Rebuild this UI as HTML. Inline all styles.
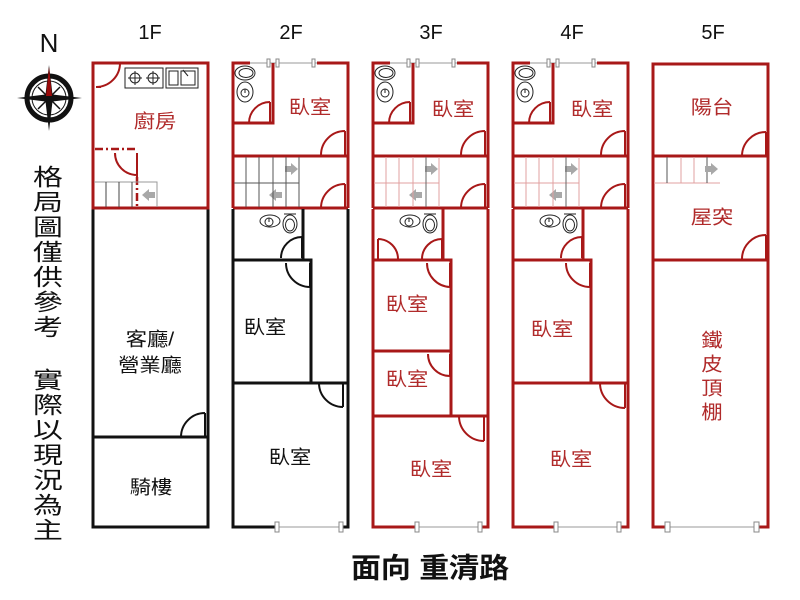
<!DOCTYPE html>
<html><head><meta charset="utf-8"><style>
html,body{margin:0;padding:0;background:#fff;}
svg{display:block;}
.r{stroke:#a81818;stroke-width:3;fill:none;}
.k{stroke:#111;stroke-width:3;fill:none;}
.ra{stroke:#a81818;stroke-width:2;fill:none;}
.ka{stroke:#111;stroke-width:2;fill:none;}
.fx{stroke:#222;stroke-width:1;fill:none;}
.g{stroke:#999;stroke-width:1;fill:none;}
.ar{fill:#a8a8a8;}
text{font-family:"Liberation Sans","Noto Sans CJK TC",sans-serif;}
.rt{fill:#b02a2a;font-size:19px;}
.bt{fill:#111;font-size:19px;}
.vt{fill:#111;font-size:23px;}
</style></head><body>
<svg width="800" height="600" viewBox="0 0 800 600" xmlns="http://www.w3.org/2000/svg">
<defs>
<g id="fixL">
  <ellipse cx="37" cy="221" rx="10" ry="6" class="fx"/>
  <circle cx="36" cy="222" r="4" class="fx"/><path class="fx" d="M36,218 V222"/>
  <ellipse cx="57" cy="224" rx="7" ry="9" class="fx"/>
  <ellipse cx="57" cy="225" rx="4.5" ry="6" class="fx"/>
  <path class="fx" d="M51,214 H63"/>
</g>
</defs>
<rect width="800" height="600" fill="#fff"/>

<!-- floor labels -->
<text x="150" y="39" font-size="20" text-anchor="middle" fill="#111">1F</text>
<text x="291" y="39" font-size="20" text-anchor="middle" fill="#111">2F</text>
<text x="431" y="39" font-size="20" text-anchor="middle" fill="#111">3F</text>
<text x="572" y="39" font-size="20" text-anchor="middle" fill="#111">4F</text>
<text x="713" y="39" font-size="20" text-anchor="middle" fill="#111">5F</text>

<!-- N + compass -->
<text x="49" y="52" font-size="26" text-anchor="middle" fill="#111">N</text>
<circle cx="49" cy="98" r="22" fill="#fff" stroke="#111" stroke-width="5"/>
<circle cx="49" cy="98" r="17" fill="none" stroke="#111" stroke-width="1"/>
<path d="M38,87 L60,109 M60,87 L38,109" stroke="#111" stroke-width="1.5"/>
<polygon points="49,65 52.5,94.5 82,98 52.5,101.5 49,131 45.5,101.5 17,98 45.5,94.5" fill="#111"/>
<polygon points="49,67 52,96 46,96" fill="#9a0a0a"/>

<!-- vertical note -->
<g class="vt" text-anchor="middle">
<text transform="translate(48,177) scale(1.3,1)" dominant-baseline="central">格</text>
<text transform="translate(48,202) scale(1.3,1)" dominant-baseline="central">局</text>
<text transform="translate(48,227) scale(1.3,1)" dominant-baseline="central">圖</text>
<text transform="translate(48,252) scale(1.3,1)" dominant-baseline="central">僅</text>
<text transform="translate(48,277) scale(1.3,1)" dominant-baseline="central">供</text>
<text transform="translate(48,302) scale(1.3,1)" dominant-baseline="central">參</text>
<text transform="translate(48,327) scale(1.3,1)" dominant-baseline="central">考</text>
<text transform="translate(48,380) scale(1.3,1)" dominant-baseline="central">實</text>
<text transform="translate(48,405) scale(1.3,1)" dominant-baseline="central">際</text>
<text transform="translate(48,430) scale(1.3,1)" dominant-baseline="central">以</text>
<text transform="translate(48,455) scale(1.3,1)" dominant-baseline="central">現</text>
<text transform="translate(48,480) scale(1.3,1)" dominant-baseline="central">況</text>
<text transform="translate(48,505) scale(1.3,1)" dominant-baseline="central">為</text>
<text transform="translate(48,530) scale(1.3,1)" dominant-baseline="central">主</text>
</g>

<!-- bottom title -->
<text transform="translate(430,569) scale(1.07,1)" text-anchor="middle" dominant-baseline="central" font-size="28" font-weight="bold" fill="#111">面向 重清路</text>

<!-- ================= 1F ================= -->
<path class="k" d="M93,208 V527 H208 V208"/>
<path class="k" d="M93,437 H208"/>
<path class="ka" d="M205,413 V437 M205,413 A24,24 0 0,0 181,437"/>
<path class="r" d="M93,208 V63 H208 V208 Z"/>
<!-- kitchen door -->
<path class="ra" d="M120,63 A24,24 0 0,1 96,87 M96,87 H101"/>
<!-- stove -->
<rect x="125" y="68" width="38" height="20" class="fx"/>
<circle cx="135" cy="78" r="5" class="fx"/><path class="fx" d="M135,71 V85 M128,78 H142"/>
<circle cx="153" cy="78" r="5" class="fx"/><path class="fx" d="M153,71 V85 M146,78 H160"/>
<!-- sink -->
<rect x="166" y="68" width="32" height="20" class="fx"/>
<rect x="169" y="71" width="9" height="14" class="fx"/>
<rect x="181" y="71" width="14" height="14" class="fx"/>
<path class="fx" d="M183,70 L188,76"/>
<text class="rt" transform="translate(155,122) scale(1.12,1)" text-anchor="middle" dominant-baseline="central">廚房</text>
<!-- dash-dot -->
<path d="M95,149 H137" stroke="#a81818" stroke-width="2.5" stroke-dasharray="8,3,2,3" fill="none"/>
<path d="M137,177 V208" stroke="#a81818" stroke-width="2.5" stroke-dasharray="8,3,2,3" fill="none"/>
<path class="ra" d="M137,153 V177 M115,153 A22,22 0 0,0 137,175"/>
<!-- stairs 1F -->
<path class="g" d="M94,182 H157 V207"/>
<path d="M106,182 V207 M119,182 V207 M132,182 V207" stroke="#444" stroke-width="1"/>
<polygon class="ar" points="155,192 149,192 149,189 142,195 149,201 149,198 155,198"/>
<text class="bt" transform="translate(150,340) scale(1.12,1)" text-anchor="middle" dominant-baseline="central">客廳/</text>
<text class="bt" transform="translate(150,366) scale(1.12,1)" text-anchor="middle" dominant-baseline="central">營業廳</text>
<text class="bt" transform="translate(151,488) scale(1.12,1)" text-anchor="middle" dominant-baseline="central">騎樓</text>

<!-- ================= top section template (2F,3F,4F) ================= -->
<g id="topA" transform="translate(233,0)">
  <path class="r" d="M0,208 V63 H17 M84,63 H115 V208 M0,208 H115"/>
  <path class="g" d="M17,63 H84"/>
  <rect x="34" y="59" width="3" height="8" fill="#fff" stroke="#888" stroke-width="1"/>
  <rect x="43" y="59" width="3" height="8" fill="#fff" stroke="#888" stroke-width="1"/>
  <rect x="79" y="59" width="3" height="8" fill="#fff" stroke="#888" stroke-width="1"/>
  <path class="r" d="M40,63 V123 H0"/>
  <ellipse cx="12" cy="73" rx="10" ry="7" class="fx"/>
  <ellipse cx="13" cy="73" rx="7" ry="4.5" class="fx"/>
  <ellipse cx="12" cy="92" rx="8" ry="10" class="fx"/>
  <circle cx="12" cy="93" r="4" class="fx"/><path class="fx" d="M12,89 V93"/>
  <path class="ra" d="M37,102 V123 M37,102 A21,21 0 0,0 16,123"/>
  <path class="r" d="M0,156 H115"/>
  <path class="ra" d="M112,131 V155 M112,131 A24,24 0 0,0 88,155"/>
  <path class="ra" d="M112,184 V208 M112,184 A24,24 0 0,0 88,208"/>
  <polygon class="ar" points="52,166 58,166 58,163 65,169 58,175 58,172 52,172"/>
  <polygon class="ar" points="49,192 43,192 43,189 36,195 43,201 43,198 49,198"/>
</g>
<g transform="translate(233,0)">
  <path d="M13,157 V207 M26,157 V207 M40,157 V207 M53,157 V207 M66,157 V207 M1,183 H66" stroke="#555" stroke-width="1" fill="none"/>
</g>
<use href="#topA" transform="translate(140,0)"/>
<g transform="translate(373,0)">
  <path d="M13,157 V207 M26,157 V207 M40,157 V207 M66,157 V207 M1,183 H66" stroke="#e0a0a0" stroke-width="1" fill="none"/>
  <path d="M53,157 V207" stroke="#666" stroke-width="1"/>
</g>
<use href="#topA" transform="translate(280,0)"/>
<g transform="translate(513,0)">
  <path d="M13,157 V207 M26,157 V207 M40,157 V207 M66,157 V207 M1,183 H66" stroke="#e0a0a0" stroke-width="1" fill="none"/>
  <path d="M53,157 V207" stroke="#666" stroke-width="1"/>
</g>
<text class="rt" transform="translate(310,108) scale(1.12,1)" text-anchor="middle" dominant-baseline="central">臥室</text>
<text class="rt" transform="translate(453,110) scale(1.12,1)" text-anchor="middle" dominant-baseline="central">臥室</text>
<text class="rt" transform="translate(592,110) scale(1.12,1)" text-anchor="middle" dominant-baseline="central">臥室</text>

<!-- ================= 2F lower ================= -->
<g transform="translate(233,0)">
  <path class="k" d="M0,209 V527 H43 M109,527 H115 V209"/>
  <path class="g" d="M43,527 H109"/>
  <rect x="42" y="522" width="4" height="10" fill="#fff" stroke="#888"/>
  <rect x="106" y="522" width="4" height="10" fill="#fff" stroke="#888"/>
  <path class="k" d="M70,209 V260 M0,260 H78 V383 M0,383 H115"/>
  <use href="#fixL"/>
  <path class="ka" d="M69,237 V258 M69,237 A21,21 0 0,0 48,258"/>
  <path class="ka" d="M77,263 V287 M53,263 A24,24 0 0,0 77,287"/>
  <path class="ka" d="M110,383 V407 M86,383 A24,24 0 0,0 110,407"/>
</g>
<text class="bt" transform="translate(265,328) scale(1.12,1)" text-anchor="middle" dominant-baseline="central">臥室</text>
<text class="bt" transform="translate(290,458) scale(1.12,1)" text-anchor="middle" dominant-baseline="central">臥室</text>

<!-- ================= 3F lower ================= -->
<g transform="translate(373,0)">
  <path class="r" d="M0,209 V527 H43 M108,527 H115 V209"/>
  <path class="g" d="M43,527 H108"/>
  <rect x="42" y="522" width="4" height="10" fill="#fff" stroke="#888"/>
  <rect x="105" y="522" width="4" height="10" fill="#fff" stroke="#888"/>
  <path class="r" d="M70,209 V260 M0,260 H78 V416 M0,351 H78 M0,416 H115"/>
  <use href="#fixL"/>
  <path class="ra" d="M5,239 V259 M5,239 A20,20 0 0,1 25,259"/>
  <path class="ra" d="M69,239 V259 M69,239 A20,20 0 0,0 49,259"/>
  <path class="ra" d="M77,263 V287 M54,263 A24,24 0 0,0 77,287"/>
  <path class="ra" d="M77,354 V376 M55,354 A22,22 0 0,0 77,376"/>
  <path class="ra" d="M111,416 V441 M86,416 A25,25 0 0,0 111,441"/>
</g>
<text class="rt" transform="translate(407,305) scale(1.12,1)" text-anchor="middle" dominant-baseline="central">臥室</text>
<text class="rt" transform="translate(407,380) scale(1.12,1)" text-anchor="middle" dominant-baseline="central">臥室</text>
<text class="rt" transform="translate(431,470) scale(1.12,1)" text-anchor="middle" dominant-baseline="central">臥室</text>

<!-- ================= 4F lower ================= -->
<g transform="translate(513,0)">
  <path class="r" d="M0,209 V527 H42 M107,527 H115 V209"/>
  <path class="g" d="M42,527 H107"/>
  <rect x="41" y="522" width="4" height="10" fill="#fff" stroke="#888"/>
  <rect x="104" y="522" width="4" height="10" fill="#fff" stroke="#888"/>
  <path class="r" d="M70,209 V260 M0,260 H78 V383 M0,383 H115"/>
  <use href="#fixL"/>
  <path class="ra" d="M69,237 V258 M69,237 A21,21 0 0,0 48,258"/>
  <path class="ra" d="M77,263 V287 M53,263 A24,24 0 0,0 77,287"/>
  <path class="ra" d="M112,383 V408 M87,383 A25,25 0 0,0 112,408"/>
</g>
<text class="rt" transform="translate(552,330) scale(1.12,1)" text-anchor="middle" dominant-baseline="central">臥室</text>
<text class="rt" transform="translate(571,460) scale(1.12,1)" text-anchor="middle" dominant-baseline="central">臥室</text>

<!-- ================= 5F ================= -->
<g transform="translate(653,0)">
  <path class="r" d="M14,527 H0 V64 H115 V527 H104"/>
  <path class="g" d="M14,527 H104"/>
  <rect x="12" y="522" width="5" height="10" fill="#fff" stroke="#888"/>
  <rect x="101" y="522" width="5" height="10" fill="#fff" stroke="#888"/>
  <path class="r" d="M0,156 H115 M0,260 H115"/>
  <path class="ra" d="M113,132 V156 M113,132 A24,24 0 0,0 89,156"/>
  <path class="ra" d="M113,235 V259 M113,235 A24,24 0 0,0 89,259"/>
  <path d="M28,157 V183 M41,157 V183 M1,183 H67" stroke="#e0a0a0" stroke-width="1" fill="none"/>
  <path d="M14,157 V183 M54,157 V183" stroke="#555" stroke-width="1"/>
  <polygon class="ar" points="52,166 58,166 58,163 65,169 58,175 58,172 52,172"/>
</g>
<text class="rt" transform="translate(712,108) scale(1.12,1)" text-anchor="middle" dominant-baseline="central">陽台</text>
<text class="rt" transform="translate(712,218) scale(1.12,1)" text-anchor="middle" dominant-baseline="central">屋突</text>
<text class="rt" transform="translate(712,341) scale(1.12,1)" text-anchor="middle" dominant-baseline="central">鐵</text>
<text class="rt" transform="translate(712,365) scale(1.12,1)" text-anchor="middle" dominant-baseline="central">皮</text>
<text class="rt" transform="translate(712,389) scale(1.12,1)" text-anchor="middle" dominant-baseline="central">頂</text>
<text class="rt" transform="translate(712,413) scale(1.12,1)" text-anchor="middle" dominant-baseline="central">棚</text>
</svg>
</body></html>
